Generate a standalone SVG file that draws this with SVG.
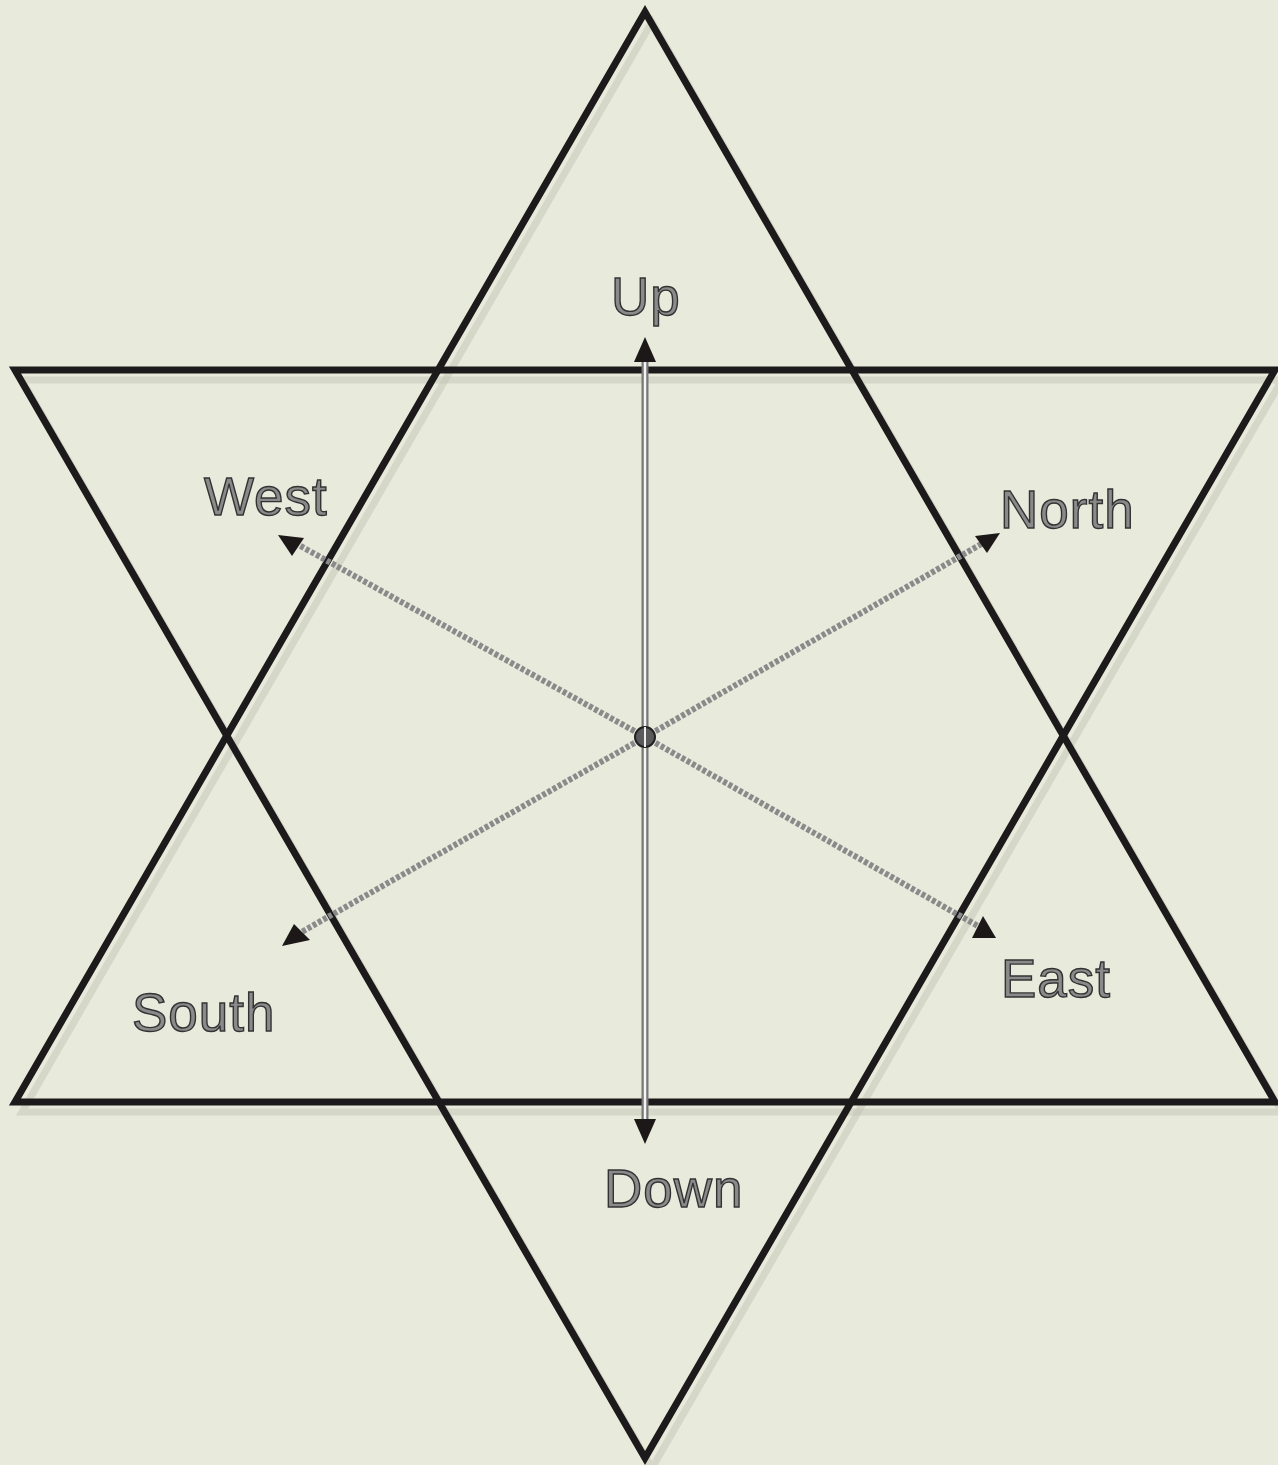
<svg xmlns="http://www.w3.org/2000/svg" width="1278" height="1465" viewBox="0 0 1278 1465">
<style>
.star{fill:none;stroke:#1c1a1a;stroke-width:7;stroke-linejoin:miter}
.shadow{fill:none;stroke:#c2c4b6;stroke-width:7;opacity:0.5}
.diag{stroke:#8a8a8a;stroke-width:6;stroke-dasharray:4 2}
.rod{stroke:#777;stroke-width:7}
.rodin{stroke:#f4f4f4;stroke-width:2.5}
.lbl{font-family:"Liberation Sans",Arial,sans-serif;font-size:53px;letter-spacing:1px;fill:#8a8a8a;stroke:#333;stroke-width:1.4}
.head{fill:#1c1818}
</style>
<rect x="0" y="0" width="1278" height="1465" fill="#e8eadc"/>
<g id="star">
<polygon class="shadow" points="649,18 19,1108 1279,1108" transform="translate(3,4)"/>
<polygon class="shadow" points="19,376 1279,376 649,1464" transform="translate(3,4)"/>
<polygon id="up-triangle" class="star" points="645,12 15,1102 1275,1102"/>
<polygon id="down-triangle" class="star" points="15,370 1275,370 645,1458"/>
</g>
<g id="connectors">
<line class="rod" x1="645" y1="1120" x2="645" y2="360"/>
<line class="rodin" x1="645" y1="1120" x2="645" y2="360"/>
<line class="diag" x1="645" y1="737" x2="985" y2="542"/>
<line class="diag" x1="645" y1="737" x2="298" y2="934"/>
<line class="diag" x1="645" y1="737" x2="295" y2="543"/>
<line class="diag" x1="645" y1="737" x2="985" y2="930"/>
<path class="head" d="M645,337 L634,362 L656,362 z"/>
<path class="head" d="M645,1144 L634,1119 L656,1119 z"/>
<path class="head" d="M1000,533 L975,536 L987,553 z"/>
<path class="head" d="M278,535 L304,538 L292,556 z"/>
<path class="head" d="M282,946 L294,924 L310,940 z"/>
<path class="head" d="M996,938 L972,938 L983,916 z"/>
<circle cx="645" cy="737" r="10" fill="#5a5a5a" stroke="#222" stroke-width="2"/>
<line x1="645" y1="727" x2="645" y2="747" stroke="#eee" stroke-width="2"/>
</g>
<g id="label-up"><text class="lbl" x="611" y="315">Up</text></g>
<g id="label-west"><text class="lbl" x="204" y="515">West</text></g>
<g id="label-north"><text class="lbl" x="1000" y="528">North</text></g>
<g id="label-east"><text class="lbl" x="1001" y="997">East</text></g>
<g id="label-south"><text class="lbl" x="132" y="1031">South</text></g>
<g id="label-down"><text class="lbl" x="604" y="1207">Down</text></g>
</svg>
